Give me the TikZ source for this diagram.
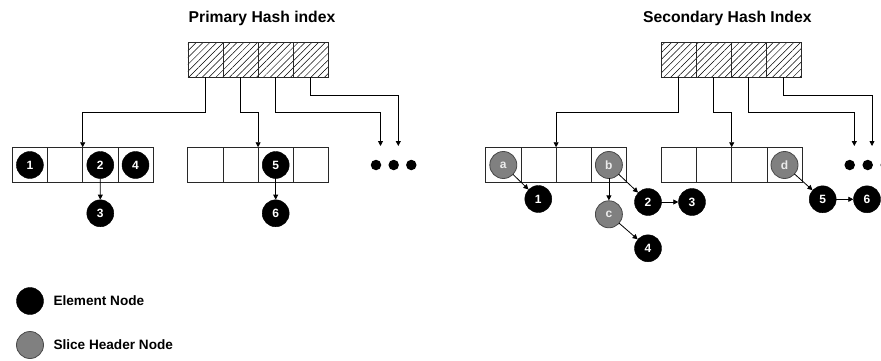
\documentclass[tikz,border=0pt]{standalone}
\usepackage{fontspec}
\setmainfont{Liberation Sans}
\usetikzlibrary{arrows.meta,patterns.meta}

\definecolor{slicefill}{RGB}{128,128,128}
\definecolor{sliceline}{RGB}{72,72,72}
\definecolor{cellline}{RGB}{40,40,40}

\tikzset{
  cell/.style={draw=cellline, line width=0.8pt, minimum width=35.2pt,
    minimum height=35.5pt, inner sep=0pt, outer sep=0pt},
  hcell/.style={cell, minimum height=35pt,
    pattern={Lines[angle=45,distance=4.8pt,line width=0.5pt]}},
  elem/.style={circle, fill=black, draw=black, minimum size=27pt, inner sep=0pt,
    text=white, font=\bfseries\fontsize{12}{12}\selectfont},
  slice/.style={elem, fill=slicefill, draw=sliceline, line width=0.8pt, text=white!92!black},
  ptr/.style={line width=0.8pt, -{Triangle[length=5pt,width=5pt]}},
  link/.style={line width=0.8pt, shorten <=-0.5pt, -{Triangle[length=5pt,width=5pt]}},
  more/.style={circle, fill=black, minimum size=10.5pt, inner sep=0pt},
  title/.style={font=\bfseries\fontsize{15.7}{15.7}\selectfont},
  legendtext/.style={anchor=west, font=\bfseries\fontsize{13.6}{13.6}\selectfont}
}

\begin{document}
\begin{tikzpicture}[x=1pt, y=-1pt]
\useasboundingbox (0,0) rectangle (881,361);
\clip (0,0) rectangle (881,361);

% ---------------- Primary hash index ----------------
\node[title] (ptitle) at (262,18) {Primary Hash index};
\foreach \i in {1,...,4}
  \node[hcell] (ph\i) at ({205.5+35*(\i-1)},59.8) {};

% buckets
\foreach \i in {1,...,4} {
  \node[cell] (pa\i) at ({29.9+35.2*(\i-1)},165) {};
  \node[cell] (pb\i) at ({205.3+35.2*(\i-1)},165) {};
}

\node[elem] (pe1) at (pa1) {1};
\node[elem] (pe2) at (pa3) {2};
\node[elem] (pe4) at (pa4) {4};
\node[elem] (pe3) at (100.3,213.3) {3};
\node[elem] (pe5) at (pb3) {5};
\node[elem] (pe6) at (275.7,213.3) {6};

\draw[link] (pe2) -- (pe3);
\draw[link] (pe5) -- (pe6);

\node[more] (pd1) at (376,165) {};
\node[more] (pd2) at (393.7,165) {};
\node[more] (pd3) at (411.3,165) {};
\coordinate (pt3) at (380.5,146);
\coordinate (pt4) at (398.3,146);

\draw[ptr] (ph1.south) -- ++(0,35) -| (pa2.north east);
\draw[ptr] (ph2.south) -- ++(0,35) -| (pb2.north east);
\draw[ptr] (ph3.south) -- ++(0,35) -| (pt3);
\draw[ptr] (ph4.south) -- ++(0,18.4) -| (pt4);

% ---------------- Secondary hash index ----------------
\node[title] (stitle) at (727.3,18) {Secondary Hash Index};
\foreach \i in {1,...,4}
  \node[hcell] (sh\i) at ({678.8+35*(\i-1)},59.8) {};

\foreach \i in {1,...,4} {
  \node[cell] (sa\i) at ({503.3+35.2*(\i-1)},165) {};
  \node[cell] (sb\i) at ({678.9+35.2*(\i-1)},165) {};
}

\node[slice] (sla) at (sa1) {a};
\node[slice] (slb) at (sa4) {b};
\node[slice] (slc) at (608.9,214.3) {c};
\node[slice] (sld) at (sb4) {d};

\node[elem] (se1) at (538.3,199) {1};
\node[elem] (se2) at (648,202) {2};
\node[elem] (se3) at (692,202) {3};
\node[elem] (se4) at (648,248.3) {4};
\node[elem] (se5) at (822.7,199.3) {5};
\node[elem] (se6) at (867,199.3) {6};

\draw[link] (sla) -- (se1);
\draw[link] (slb) -- (se2);
\draw[link] (slb) -- (slc);
\draw[link] (slc) -- (se4);
\draw[link] (se2) -- (se3);
\draw[link] (sld) -- (se5);
\draw[link] (se5) -- (se6);

\node[more] (sd1) at (849.7,165) {};
\node[more] (sd2) at (867.7,165) {};
\node[more] (sd3) at (885.7,165) {};
\coordinate (st3) at (854.3,146);
\coordinate (st4) at (872,146);

\draw[ptr] (sh1.south) -- ++(0,35) -| (sa2.north east);
\draw[ptr] (sh2.south) -- ++(0,35) -| (sb2.north east);
\draw[ptr] (sh3.south) -- ++(0,35) -| (st3);
\draw[ptr] (sh4.south) -- ++(0,18.4) -| (st4);

% ---------------- Legend ----------------
\node[elem] (lg1) at (30,301) {};
\node[legendtext] (lt1) at (50,301) {Element Node};
\node[slice] (lg2) at (30,345) {};
\node[legendtext] (lt2) at (50,345) {Slice Header Node};
\end{tikzpicture}
\end{document}
